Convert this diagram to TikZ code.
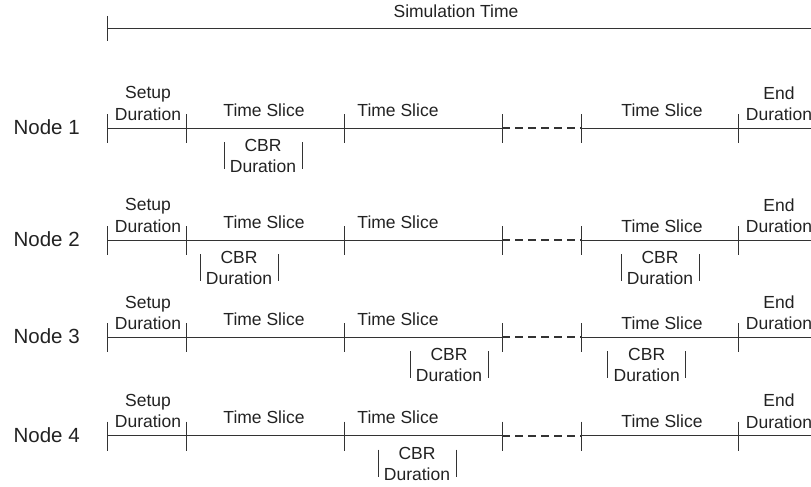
\documentclass[tikz,border=0pt]{standalone}
\usepackage{fontspec}
\setmainfont{Liberation Sans}
\definecolor{ink}{HTML}{222222}
\definecolor{rule}{HTML}{333333}
\tikzset{
  lbl/.style={font=\fontsize{17.5}{21.3}\selectfont, text=ink, align=center, inner sep=0pt},
  nodelbl/.style={font=\fontsize{20.5}{24}\selectfont, text=ink, inner sep=0pt},
  axis/.style={draw=rule, line width=1pt},
  tickmark/.style={draw=rule, line width=1pt},
  gapline/.style={draw=rule, line width=1.8pt, dash pattern=on 8pt off 5pt},
}
\begin{document}
\begin{tikzpicture}[x=1pt, y=-1pt]
  \useasboundingbox (0,0) rectangle (811,487);
  \clip (0,0) rectangle (811,487);

  % overall simulation time axis
  \node[lbl] (simtime) at (456,11) {Simulation Time};
  \coordinate (s0) at (107,29);
  \coordinate (s1) at (811,29);
  \draw[axis] (s0) -- (s1);
  \draw[tickmark] ([yshift=13pt]s0) -- ([yshift=-12pt]s0);

  % one timeline per node
  \foreach \r/\L/\dy in {1/128/18, 2/240/14, 3/337.3/14, 4/435.7/14} {
    \foreach \i/\x in {0/107,1/186,2/344,3/502,4/581,5/738,6/811}
      \coordinate (p\r-\i) at (\x,\L);
    \node[nodelbl] (node\r) at (46.7,\L-1) {Node \r};
    \draw[axis] (p\r-0) -- (p\r-3);
    \draw[gapline] (p\r-3) -- (p\r-4);
    \draw[axis] (p\r-4) -- (p\r-6);
    \foreach \i in {0,...,5}
      \draw[tickmark] ([yshift=14pt]p\r-\i) -- ([yshift=-15pt]p\r-\i);
    \node[lbl] (setup\r) at (148,\L-24.5) {Setup\\Duration};
    \node[lbl] (slicea\r) at (264,\L-18) {Time Slice};
    \node[lbl] (sliceb\r) at (398,\L-18) {Time Slice};
    \node[lbl] (slicec\r) at (662,\L-\dy) {Time Slice};
    \node[lbl] (end\r) at (779,\L-24.5) {End\\Duration};
  }

  % CBR durations inside the time slices
  \foreach \L/\c [count=\k] in {128/263, 240/239, 240/660, 337.3/449, 337.3/646.7, 435.7/417} {
    \node[lbl] (cbr\k) at (\c,\L+28) {CBR\\Duration};
    \coordinate (cl\k) at (\c-39,\L+14);
    \coordinate (cr\k) at (\c+39,\L+14);
    \draw[tickmark] (cl\k) -- ([yshift=-27pt]cl\k);
    \draw[tickmark] (cr\k) -- ([yshift=-27pt]cr\k);
  }
\end{tikzpicture}
\end{document}
